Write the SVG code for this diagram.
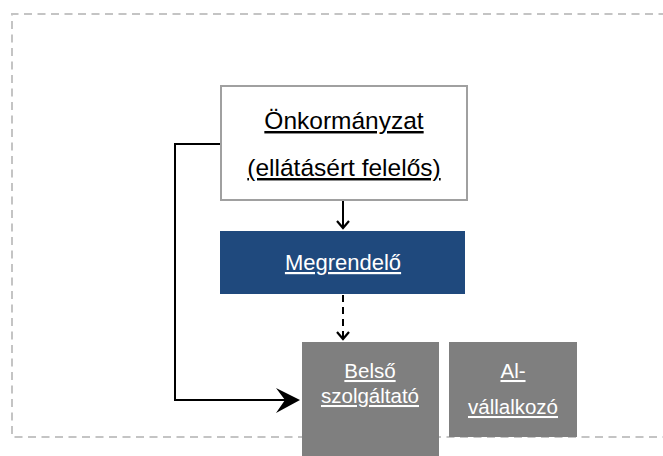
<svg xmlns="http://www.w3.org/2000/svg" width="663" height="456" viewBox="0 0 663 456">
  <style>
    .lbl { font-family: Arial, "Liberation Sans", sans-serif; text-anchor: middle; text-decoration: underline; }
    .dark { fill: #000000; }
    .light { fill: #ffffff; }
    .conn { fill: none; stroke: #000000; stroke-width: 2; }
  </style>
  <defs>
    <!-- open chevron head, drawn pointing along +x -->
    <marker id="chev" viewBox="0 0 14 16" refX="11" refY="8" markerWidth="14" markerHeight="16" markerUnits="userSpaceOnUse" orient="auto" overflow="visible">
      <path d="M4,2 L11,8 L4,14" fill="none" stroke="#000" stroke-width="2.2"/>
    </marker>
  </defs>
  <rect width="663" height="456" fill="#ffffff"/>

  <!-- dashed frame, open on the right -->
  <path d="M680,14 L12,14 L12,437 L680,437" fill="none" stroke="#c4c4c4" stroke-width="2" stroke-dasharray="8,5.5"/>

  <g id="onkormanyzat">
    <rect x="221" y="86" width="246" height="114" fill="#ffffff" stroke="#a0a0a0" stroke-width="2"/>
    <text class="lbl dark" x="344" y="129" font-size="24.5">Önkormányzat</text>
    <text class="lbl dark" x="344" y="176" font-size="24.5">(ellátásért felelős)</text>
  </g>

  <g id="megrendelo">
    <rect x="220" y="231" width="245" height="63" fill="#1f497d"/>
    <text class="lbl light" x="343" y="270" font-size="22">Megrendelő</text>
  </g>

  <g id="belso-szolgaltato">
    <rect x="302" y="342" width="137" height="114" fill="#7f7f7f"/>
    <text class="lbl light" x="370" y="378" font-size="20.5">Belső</text>
    <text class="lbl light" x="370" y="403" font-size="20.5">szolgáltató</text>
  </g>

  <g id="alvallalkozo">
    <rect x="449" y="342" width="128" height="95" fill="#7f7f7f"/>
    <text class="lbl light" x="513" y="378" font-size="20.5">Al-</text>
    <text class="lbl light" x="513" y="414" font-size="20.5">vállalkozó</text>
  </g>

  <g id="connectors">
    <path class="conn" d="M343,201 L343,228" marker-end="url(#chev)"/>
    <path class="conn" d="M343,295 L343,339" stroke-dasharray="7,5" marker-end="url(#chev)"/>
    <path class="conn" d="M220,144 L175,144 L175,400 L290,400"/>
    <path d="M300,400 L276,388 L285,400 L276,413 Z" fill="#000000"/>
  </g>
</svg>
